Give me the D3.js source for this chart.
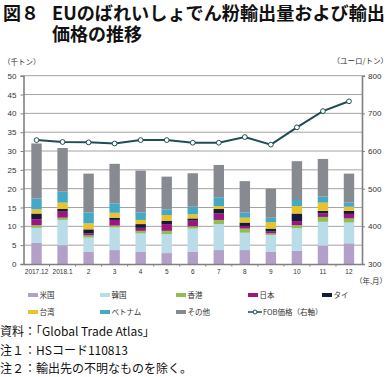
<!DOCTYPE html>
<html>
<head>
<meta charset="utf-8">
<script src="https://cdn.jsdelivr.net/npm/d3@7"></script>
<style>
body { margin: 0; background: #fff; }
svg { display: block; font-family: "Noto Sans CJK JP", "Noto Sans", sans-serif; }
</style>
</head>
<body>
<svg id="chart" width="390" height="377"></svg>
<script>
// months on the x axis
var months = ["2017.12", "2018.1", "2", "3", "4", "5", "6", "7", "8", "9", "10", "11", "12"];

// stacked series, thousand tonnes (bottom -> top)
var seriesNames = ["米国", "韓国", "香港", "日本", "タイ", "台湾", "ベトナム", "その他"];
var usa      = [5.6, 5.0, 3.2, 3.7, 3.2, 2.9, 3.3, 3.7, 3.7, 3.2, 3.5, 4.9, 5.5];
var korea    = [4.0, 6.7, 3.8, 6.0, 4.9, 5.0, 6.1, 6.9, 4.6, 4.5, 6.0, 6.3, 5.5];
var hongkong = [0.7, 0.6, 0.6, 0.5, 0.7, 0.9, 0.6, 1.1, 1.1, 0.4, 0.8, 1.3, 1.1];
var japan    = [1.6, 1.6, 0.5, 1.5, 0.8, 1.8, 1.5, 1.7, 0.7, 0.5, 1.1, 0.9, 1.2];
var thai     = [1.5, 0.7, 1.1, 0.6, 1.0, 0.9, 0.6, 1.2, 0.9, 0.8, 2.0, 0.7, 0.8];
var taiwan   = [1.1, 1.7, 1.6, 1.3, 1.1, 1.5, 1.1, 0.8, 1.3, 1.7, 2.0, 2.2, 1.1];
var vietnam  = [2.9, 2.9, 2.9, 2.5, 2.0, 1.5, 2.0, 2.3, 1.4, 1.2, 1.6, 1.6, 1.1];
var others   = [14.6, 11.6, 10.3, 10.5, 11.1, 8.7, 8.9, 8.6, 8.3, 7.7, 10.3, 10.0, 7.7];

// FOB price, euro / tonne (right axis)
var fobPrice = [629, 624, 623, 620, 629, 629, 622, 622, 637, 617, 663, 706, 732];

var leftTicks = [0, 5, 10, 15, 20, 25, 30, 35, 40, 45, 50];
var rightTicks = [300, 400, 500, 600, 700, 800];

var colors = ["#b3a0c9", "#badbe8", "#8cc152", "#9e1582", "#141b36", "#e9c22c", "#43a9c7", "#878a90"];
var lineColor = "#1e4d53";

var svg = d3.select("#chart");

var plotL = 23.5, plotR = 362, plotT = 75.7, plotB = 264;

var x = d3.scaleBand().domain(months).range([plotL, plotR]).paddingInner(0.6).paddingOuter(0.3);
var yL = d3.scaleLinear().domain([0, 50]).range([plotB, plotT]);
var yR = d3.scaleLinear().domain([300, 800]).range([plotB, plotT]);

// title
svg.append("text").attr("x", 3).attr("y", 20).attr("font-size", 18).attr("font-weight", "bold")
	.attr("fill", "#111").text("図８");
svg.append("text").attr("x", 52).attr("y", 20).attr("font-size", 18).attr("font-weight", "bold")
	.attr("fill", "#111").attr("textLength", 333).attr("lengthAdjust", "spacingAndGlyphs")
	.text("EUのばれいしょでん粉輸出量および輸出");
svg.append("text").attr("x", 52).attr("y", 40.5).attr("font-size", 18).attr("font-weight", "bold")
	.attr("fill", "#111").text("価格の推移");

// unit labels
svg.append("text").attr("x", 3).attr("y", 65).attr("font-size", 7.5).attr("fill", "#333").text("（千トン）");
svg.append("text").attr("x", 388).attr("y", 64).attr("font-size", 7.5).attr("fill", "#333")
	.style("text-anchor", "end").text("（ユーロ/トン）");

// gridlines
svg.append("g").selectAll("line").data(leftTicks.filter(d => d > 0)).enter().append("line")
	.attr("x1", plotL).attr("x2", plotR)
	.attr("y1", d => yL(d)).attr("y2", d => yL(d))
	.attr("stroke", "#a3a3a3").attr("stroke-width", 1);

// stacked bars
var table = months.map(function(m, i) {
	return {
		month: m,
		"米国": usa[i], "韓国": korea[i], "香港": hongkong[i], "日本": japan[i],
		"タイ": thai[i], "台湾": taiwan[i], "ベトナム": vietnam[i], "その他": others[i]
	};
});
var stacked = d3.stack().keys(seriesNames)(table);

svg.append("g").selectAll("g").data(stacked).enter().append("g")
	.attr("fill", (d, i) => colors[i])
	.selectAll("rect").data(d => d).enter().append("rect")
	.attr("x", d => x(d.data.month))
	.attr("width", x.bandwidth())
	.attr("y", d => yL(d[1]))
	.attr("height", d => yL(d[0]) - yL(d[1]));

// axes
var leftAxis = svg.append("g").attr("transform", "translate(" + plotL + ",0)")
	.call(d3.axisLeft(yL).tickValues(leftTicks).tickSize(3).tickPadding(4));
var rightAxis = svg.append("g").attr("transform", "translate(" + plotR + ",0)")
	.call(d3.axisRight(yR).tickValues(rightTicks).tickSize(3).tickPadding(3));
var bottomAxis = svg.append("g").attr("transform", "translate(0," + plotB + ")")
	.call(d3.axisBottom(x).tickSize(0).tickPadding(5));

[leftAxis, rightAxis, bottomAxis].forEach(function(a) {
	a.select(".domain").attr("stroke", "#808080").attr("stroke-width", 1.6);
	a.selectAll(".tick line").attr("stroke", "#808080");
	a.selectAll("text").attr("fill", "#333").attr("font-family", "Liberation Sans, Arial, sans-serif");
});
leftAxis.selectAll("text").attr("font-size", 8);
rightAxis.selectAll("text").attr("font-size", 8);
bottomAxis.selectAll("text").attr("font-size", 6.5);

// small separators under the bottom axis
svg.append("g").selectAll("line").data(months.slice(1)).enter().append("line")
	.attr("x1", d => x(d) - x.step() * x.paddingInner() / 2)
	.attr("x2", d => x(d) - x.step() * x.paddingInner() / 2)
	.attr("y1", plotB).attr("y2", plotB + 2.5)
	.attr("stroke", "#808080");

svg.append("text").attr("x", 387).attr("y", 284).attr("font-size", 7.5).attr("fill", "#333")
	.style("text-anchor", "end").text("（年.月）");

// FOB price line
var line = d3.line().x(d => d.x).y(d => d.y);
var pts = fobPrice.map((v, i) => ({ x: x(months[i]) + x.bandwidth() / 2, y: yR(v) }));
svg.append("path").datum(pts).attr("d", line)
	.attr("fill", "none").attr("stroke", lineColor).attr("stroke-width", 2);
svg.append("g").selectAll("circle").data(pts).enter().append("circle")
	.attr("cx", d => d.x).attr("cy", d => d.y).attr("r", 2.4)
	.attr("fill", "#fff").attr("stroke", lineColor).attr("stroke-width", 1);

// legend
var legendCols = [28, 100, 176, 248, 322];
var legendRows = [295, 312];
var legend = svg.append("g");
seriesNames.forEach(function(name, i) {
	var lx = legendCols[i % 5], ly = legendRows[Math.floor(i / 5)];
	legend.append("rect").attr("x", lx).attr("y", ly - 2).attr("width", 10).attr("height", 4).attr("fill", colors[i]);
	legend.append("text").attr("x", lx + 11.5).attr("y", ly + 2.7).attr("font-size", 7.5).attr("fill", "#333").text(name);
});
var fx = legendCols[3], fy = legendRows[1];
legend.append("line").attr("x1", fx).attr("x2", fx + 14).attr("y1", fy).attr("y2", fy)
	.attr("stroke", lineColor).attr("stroke-width", 1.5);
legend.append("circle").attr("cx", fx + 7).attr("cy", fy).attr("r", 2)
	.attr("fill", "#fff").attr("stroke", lineColor).attr("stroke-width", 1);
legend.append("text").attr("x", fx + 15).attr("y", fy + 2.7).attr("font-size", 7.5).attr("fill", "#333").text("FOB価格（右軸）");

// notes
var notes = ["資料：「Global Trade Atlas」", "注１：HSコード110813", "注２：輸出先の不明なものを除く。"];
svg.append("g").selectAll("text").data(notes).enter().append("text")
	.attr("x", 0).attr("y", (d, i) => 336 + i * 18.5)
	.attr("font-size", 12).attr("fill", "#111").text(d => d);
</script>
</body>
</html>
